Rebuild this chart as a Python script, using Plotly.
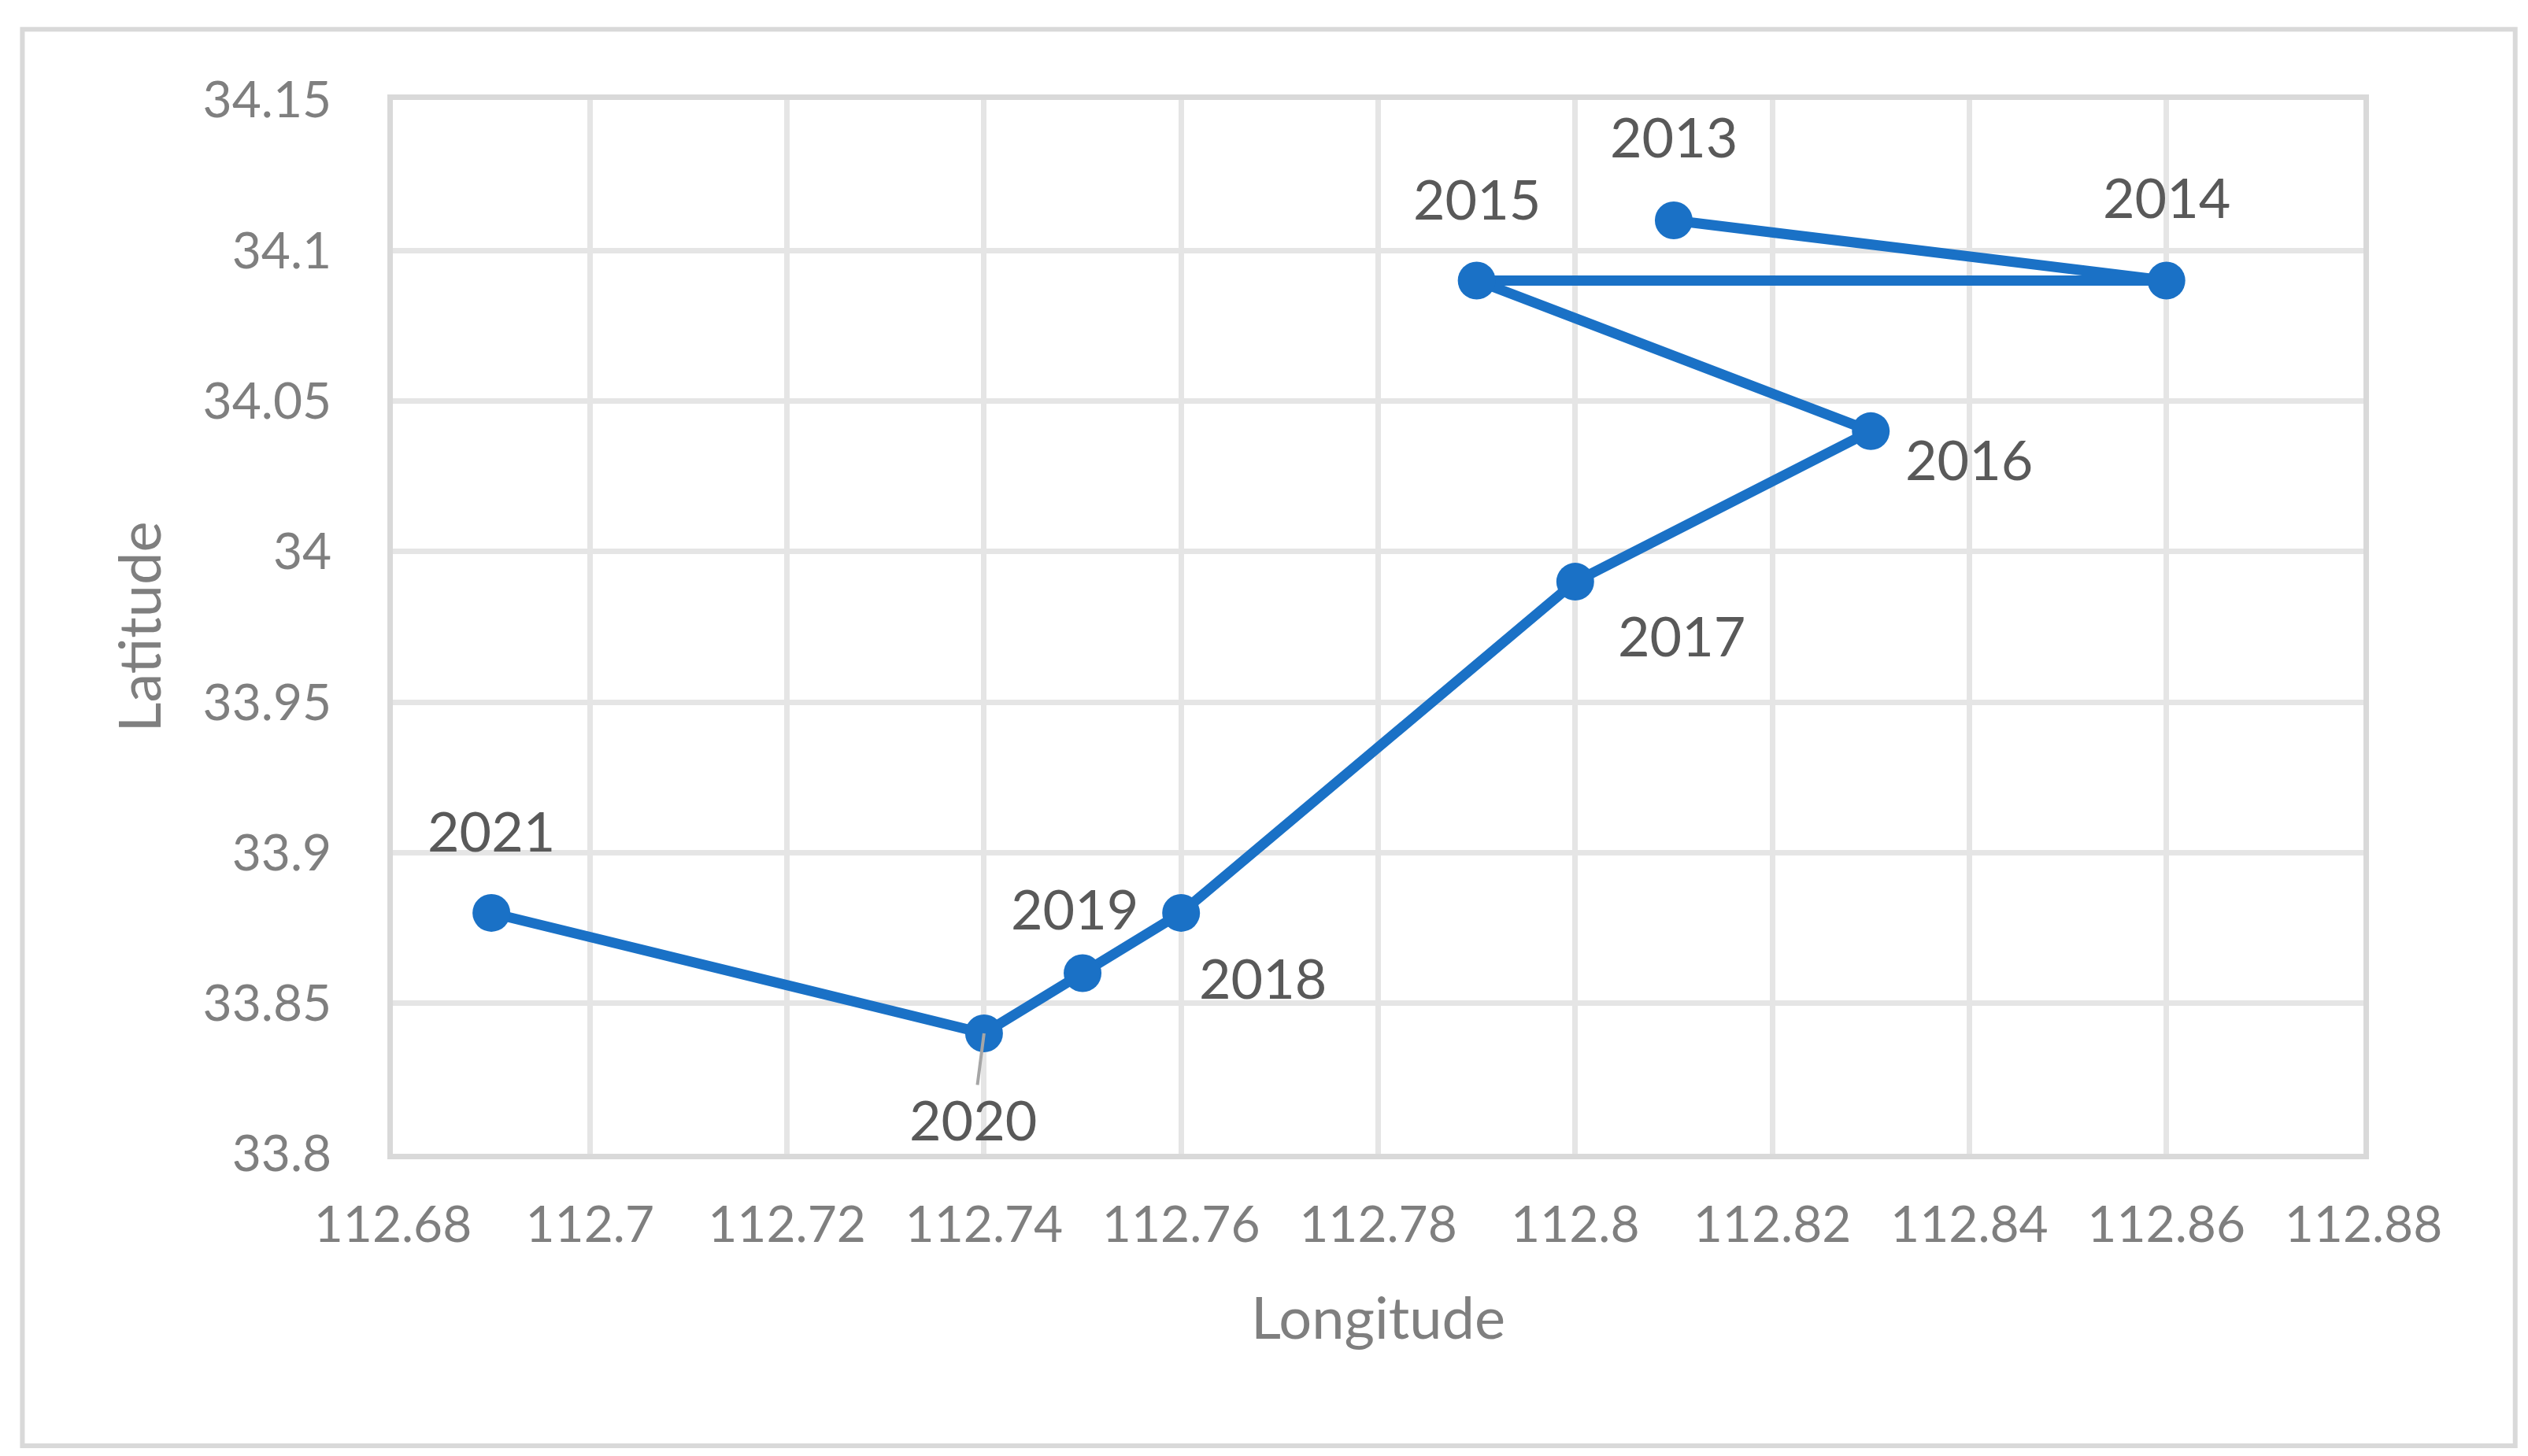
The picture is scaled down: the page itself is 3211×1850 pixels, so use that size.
import plotly.graph_objects as go

years = ["2013", "2014", "2015", "2016", "2017", "2018", "2019", "2020", "2021"]
longitude = [112.81, 112.86, 112.79, 112.83, 112.80, 112.76, 112.75, 112.74, 112.69]
latitude = [34.11, 34.09, 34.09, 34.04, 33.99, 33.88, 33.86, 33.84, 33.88]
x_ticks = [112.68, 112.70, 112.72, 112.74, 112.76, 112.78, 112.80, 112.82, 112.84, 112.86, 112.88]
x_tick_text = ["112.68", "112.7", "112.72", "112.74", "112.76", "112.78", "112.8", "112.82", "112.84", "112.86", "112.88"]
y_ticks = [33.80, 33.85, 33.90, 33.95, 34.00, 34.05, 34.10, 34.15]
y_tick_text = ["33.8", "33.85", "33.9", "33.95", "34", "34.05", "34.1", "34.15"]

# label offsets (pixels) per year: (dx, dy) with dy positive downward
label_offsets = {
    "2013": (0, -107), "2014": (0, -107), "2015": (0, -105),
    "2016": (125, 35), "2017": (135, 68), "2018": (104, 82),
    "2019": (-10, -82), "2020": (-14, 109), "2021": (0, -105),
}

FONT = "Lato"
BLUE = "#1A71C6"
GRID = "#E5E5E5"
AXC = "#D9D9D9"

fig = go.Figure()
fig.add_trace(go.Scatter(
    x=longitude, y=latitude, mode="lines+markers",
    line=dict(color=BLUE, width=13),
    marker=dict(color=BLUE, size=48),
    showlegend=False, hoverinfo="skip",
))

annotations = []
for yr, lo, la in zip(years, longitude, latitude):
    dx, dy = label_offsets[yr]
    if yr == "2020":
        annotations.append(dict(
            x=lo, y=la, text=yr, showarrow=True, ax=dx, ay=dy,
            arrowhead=0, arrowwidth=4, arrowcolor="#A6A6A6", standoff=0,
            font=dict(family=FONT, size=70, color="#595959"),
        ))
    else:
        annotations.append(dict(
            x=lo, y=la, text=yr, showarrow=False, xshift=dx, yshift=-dy,
            font=dict(family=FONT, size=70, color="#595959"),
        ))

fig.update_layout(
    width=3211, height=1850,
    margin=dict(l=491, r=217, t=119, b=392),
    paper_bgcolor="white", plot_bgcolor="white",
    font=dict(family=FONT, color="#7F7F7F"),
    annotations=annotations,
    shapes=[dict(type="rect", xref="paper", yref="paper",
                 x0=-0.188, x1=1.077, y0=-0.277, y1=1.067,
                 line=dict(color=AXC, width=6), layer="below")],
    xaxis=dict(
        range=[112.68, 112.88], tickmode="array", tickvals=x_ticks, ticktext=x_tick_text,
        showgrid=True, gridcolor=GRID, gridwidth=7, zeroline=False,
        showline=True, linecolor=AXC, linewidth=7, mirror=True,
        ticks="", ticklabelstandoff=28,
        tickfont=dict(family=FONT, size=64, color="#7F7F7F"),
        title=dict(text="Longitude", font=dict(family=FONT, size=74, color="#7F7F7F"), standoff=61),
    ),
    yaxis=dict(
        range=[33.8, 34.15], tickmode="array", tickvals=y_ticks, ticktext=y_tick_text,
        showgrid=True, gridcolor=GRID, gridwidth=7, zeroline=False,
        showline=True, linecolor=AXC, linewidth=7, mirror=True,
        ticks="", ticklabelstandoff=58,
        tickfont=dict(family=FONT, size=64, color="#7F7F7F"),
        title=dict(text="Latitude", font=dict(family=FONT, size=74, color="#7F7F7F"), standoff=31),
    ),
)

fig.write_html("out.html")
